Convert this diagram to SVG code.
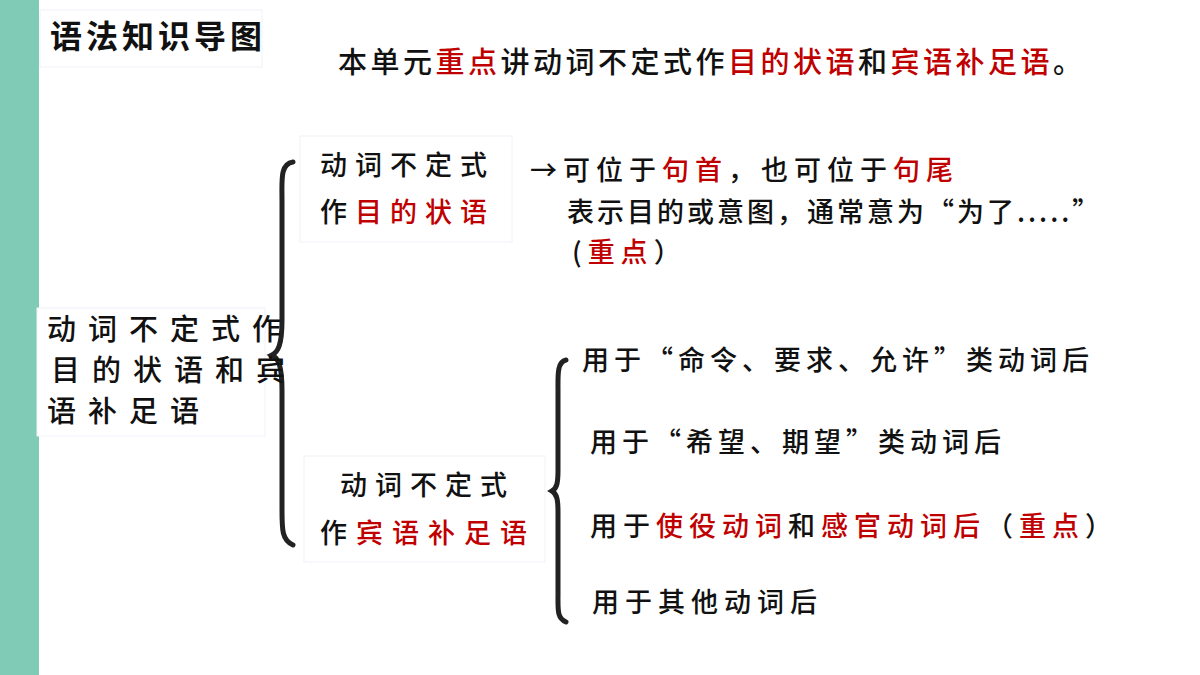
<svg xmlns="http://www.w3.org/2000/svg" width="1200" height="675" viewBox="0 0 1200 675">
<style>
text{font-family:"Noto Sans CJK SC","Noto Sans",sans-serif;fill:#111;font-weight:500}
.r{fill:#c00000}
.box{fill:#fff;stroke:#f0f2f8;stroke-width:1}
.br{fill:none;stroke:#222;stroke-width:5;stroke-linecap:round}
</style>
<rect width="1200" height="675" fill="#fff"/>
<rect x="0" y="0" width="39" height="675" fill="#80cbb5"/>
<g id="title"><rect class="box" x="40" y="10" width="222" height="57"/>
<text x="50" y="48" style="font-size:32px;font-weight:bold;letter-spacing:4px">语法知识导图</text></g>
<g id="header"><text x="338" y="73" style="font-size:29px;letter-spacing:3.5px">本单元<tspan class="r">重点</tspan>讲动词不定式作<tspan class="r">目的状语</tspan>和<tspan class="r">宾语补足语</tspan>。</text></g>
<g id="connectors">
<path class="br" d="M293,162 C280,164 282,180 282,200 L282,320 C282,345 278,352 272,355 C278,358 282,365 282,390 L282,510 C282,530 282,540 293,545"/>
<path class="br" d="M566,360 C557,362 558,375 558,390 L558,470 C558,483 557,488 552,491 C557,494 558,500 558,512 L558,595 C558,610 557,618 566,622"/>
</g>
<g id="root" style="font-size:29px;letter-spacing:12px"><rect class="box" x="37" y="308" width="228" height="128"/>
<text x="47" y="340" style="font-size:29px;letter-spacing:12px">动词不定式作</text>
<text x="51" y="381" style="font-size:29px;letter-spacing:12px">目的状语和宾</text>
<text x="47" y="422" style="font-size:29px;letter-spacing:12px">语补足语</text></g>
<g id="n1"><rect class="box" x="300" y="136" width="212" height="106"/>
<text x="320" y="175" style="font-size:27px;letter-spacing:8px">动词不定式</text>
<text x="320" y="222" style="font-size:27px;letter-spacing:8px">作<tspan class="r">目的状语</tspan></text></g>
<g id="n1text">
<text x="530" y="180" style="font-size:27px;letter-spacing:6px">→可位于<tspan class="r">句首</tspan>，也可位于<tspan class="r">句尾</tspan></text>
<text x="567" y="222" style="font-size:27px;letter-spacing:3px">表示目的或意图，通常意为“为了.....”</text>
<text x="572" y="262" style="font-size:27px;letter-spacing:6px">(<tspan class="r">重点</tspan>）</text></g>
<g id="n2"><rect class="box" x="304" y="456" width="241" height="106"/>
<text x="340" y="495" style="font-size:27px;letter-spacing:8px">动词不定式</text>
<text x="320" y="543" style="font-size:27px;letter-spacing:9px">作<tspan class="r">宾语补足语</tspan></text></g>
<g id="n2text">
<text x="582" y="370" style="font-size:27px;letter-spacing:5px">用于“命令、要求、允许”类动词后</text>
<text x="590" y="452" style="font-size:27px;letter-spacing:5px">用于“希望、期望”类动词后</text>
<text x="590" y="536" style="font-size:27px;letter-spacing:6px">用于<tspan class="r">使役动词</tspan>和<tspan class="r">感官动词后</tspan>（<tspan class="r">重点</tspan>）</text>
<text x="592" y="612" style="font-size:27px;letter-spacing:6px">用于其他动词后</text></g>
</svg>
